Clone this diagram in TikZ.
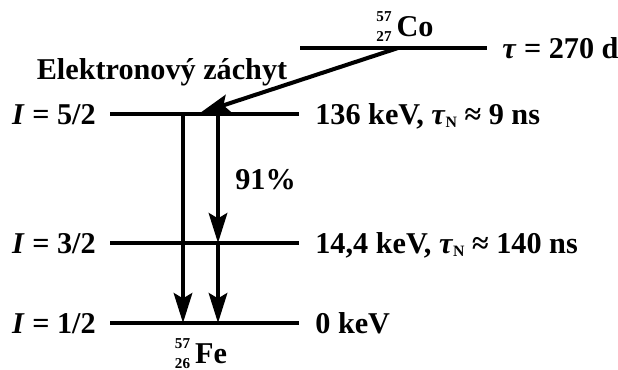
\documentclass[tikz,border=0pt]{standalone}
\usepackage{fontspec}
\setmainfont{Liberation Serif}
\usetikzlibrary{arrows.meta}
\newcommand{\nuclide}[3]{\rlap{\raisebox{8.5pt}{\fontsize{8.6}{9}\selectfont #1}}\raisebox{-3pt}{\fontsize{8.6}{9}\selectfont #2}\,#3}
\newcommand{\tauN}{\textit{τ}\raisebox{-2pt}{\fontsize{9}{9}\selectfont N}}
\tikzset{fig/.style={line join=round,>={Stealth[length=17pt,width=10.5pt,inset=3pt]},x=0.02cm,y=-0.02cm},
  lvl/.style={line width=2.3pt},
  trans/.style={line width=2.3pt,->},
  txt/.style={font=\fontsize{17.2}{20}\selectfont\bfseries,inner sep=0pt}}

\begin{document}
\begin{tikzpicture}[fig]
  \useasboundingbox(0,0)rectangle(618,369);
  % parent level 57Co
  \coordinate(co-l)at(300,48);\coordinate(co-r)at(487,48);\coordinate(co-x)at(398,48);
  \draw[lvl](co-l)--(co-r);
  \node[txt,anchor=base](co)at(405,36){\nuclide{57}{27}{Co}};
  \node[txt,anchor=base west](tau)at(502,58){\textit{τ} = 270 d};
  % levels of 57Fe
  \coordinate(a-l)at(110,114);\coordinate(a-r)at(299,114);
  \coordinate(b-l)at(110,243);\coordinate(b-r)at(299,243);
  \coordinate(c-l)at(110,323);\coordinate(c-r)at(299,323);
  \draw[lvl](a-l)--(a-r);\draw[lvl](b-l)--(b-r);\draw[lvl](c-l)--(c-r);
  \node[txt,anchor=base east](spin-a)at(96,124){\textit{I} = 5/2};
  \node[txt,anchor=base east](spin-b)at(96,253){\textit{I} = 3/2};
  \node[txt,anchor=base east](spin-c)at(96,333){\textit{I} = 1/2};
  \node[txt,anchor=base west](en-a)at(315,124){136 keV, \tauN{} ≈ 9 ns};
  \node[txt,anchor=base west](en-b)at(315,253){14,4 keV, \tauN{} ≈ 140 ns};
  \node[txt,anchor=base west](en-c)at(315,333){0 keV};
  \node[txt,anchor=base](fe)at(201,363){\nuclide{57}{26}{Fe}};
  % electron capture
  \coordinate(ec)at(200,113);
  \draw[trans](co-x)--(ec);
  \node[txt,anchor=base](capt)at(162,79){Elektronový záchyt};
  % gamma transitions
  \coordinate(g1-s)at(183,114);\coordinate(g1-e)at(183,323);
  \coordinate(g2-s)at(218,114);\coordinate(g2-m)at(218,243);\coordinate(g2-e)at(218,323);
  \draw[trans](g1-s)--(g1-e);
  \draw[trans](g2-s)--(g2-m);
  \draw[trans](g2-m)--(g2-e);
  \node[txt,anchor=base west](pct)at(235,189){91\%};
\end{tikzpicture}
\end{document}
